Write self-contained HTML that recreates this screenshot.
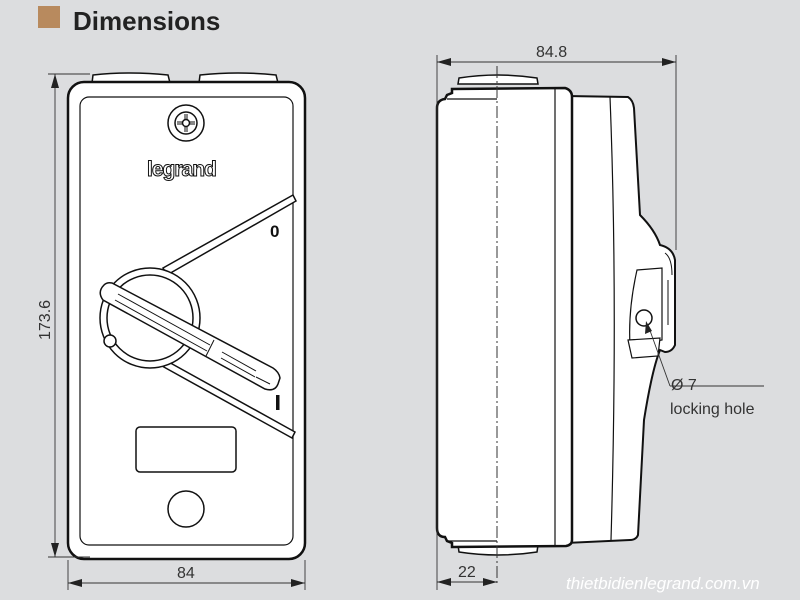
<!DOCTYPE html>
<html><head><style>
html,body{margin:0;padding:0;background:#dcdddf;}
svg{display:block}
text{font-family:"Liberation Sans",sans-serif;}
</style></head><body>
<svg width="800" height="600" viewBox="0 0 800 600" xmlns="http://www.w3.org/2000/svg">
<rect width="800" height="600" fill="#dcdddf"/>
<rect x="38" y="6" width="22" height="22" fill="#b88a5e"/>
<text x="73" y="30" font-size="26" font-weight="bold" fill="#222">Dimensions</text>

<g stroke="#111" fill="#fff" stroke-width="1.5">
<path d="M92,83 L93,75 Q130,71 168,75 L170,83 Z"/>
<path d="M199,83 L200,75 Q238,71 276,75 L278,83 Z"/>
<path d="M93,545 L94,554 Q132,559 170,554 L171,545 Z"/>
<path d="M199,545 L200,554 Q238,559 276,554 L277,545 Z"/>
<rect x="68" y="82" width="237" height="477" rx="16" stroke-width="2.5"/>
<rect x="80" y="97" width="213" height="448" rx="9" stroke-width="1.2"/>
<circle cx="186" cy="123" r="18"/>
<circle cx="186" cy="123" r="11"/>
<path d="M186,114 V132 M177,123 H195" stroke-width="3"/>
<path d="M186,114 V132 M177,123 H195" stroke="#fff" stroke-width="1"/>
<circle cx="186" cy="123" r="3.5"/>
</g>
<text x="147" y="176" font-size="21" font-weight="bold" fill="#fff" stroke="#111" stroke-width="1" letter-spacing="-1">legrand</text>
<g stroke="#111" fill="#fff" stroke-width="1.5">
<path d="M163,268 L293,195 L296,201 L167,275 Z"/>
<path d="M165,360 L295,432 L292,438 L162,366 Z"/>
<circle cx="150" cy="318" r="50"/>
<circle cx="150" cy="318" r="43"/>
<circle cx="110" cy="341" r="6"/>
<path d="M104,285 Q97,292 103,300 L265,389 Q275,392 278,384 L280,378 Q279,372 273,368 L112,283 Q107,282 104,285 Z"/>
<path d="M118,294 L210,345 M115,300 L207,351 M214,340 L206,356 M222,352 L256,371 M221,358 L255,377 M256,377 L270,384" stroke-width="1"/>
<rect x="136" y="427" width="100" height="45" rx="4"/>
<circle cx="186" cy="509" r="18"/>
</g>
<text x="270" y="237" font-size="17" font-weight="bold" fill="#111">0</text>
<rect x="276" y="395" width="3.5" height="15" fill="#111"/>

<g stroke="#111" fill="#fff" stroke-width="1.5">
<path d="M458,84 L459,78 Q498,72 537,78 L538,84 Z"/>
<path d="M458,545 L459,552 Q498,558 537,552 L538,545 Z"/>
<path d="M566,96 L628,97 Q633,100 634,108 L640,215 Q655,230 660,245 Q673,248 675,260 L675,345 Q672,352 665,352 L660,350 Q652,370 644,420 L638,535 Q636,540 630,540 L566,543 Z" stroke-width="2"/>
<path d="M437,108 Q437,100 445,99 L447,95 L452,93 L452,89 L565,88 Q572,90 572,97 L572,540 Q572,545 566,546 L452,547 L452,543 L447,541 L445,537 Q437,537 437,528 Z" stroke-width="2.5"/>
<path d="M555,89 V545 M610,97 Q618,300 611,540 M447,99 H497 M447,541 H497" stroke-width="1.2" fill="none"/>
<path d="M637,270 L662,268 L662,340 L630,345 Q628,310 637,270 Z" stroke-width="1.2"/>
<path d="M628,340 L660,338 L658,356 L632,358 Z" stroke-width="1.2"/>
<path d="M665,253 Q672,258 672,275 M668,280 V325" stroke-width="1" fill="none"/>
<circle cx="644" cy="318" r="8"/>
</g>
<line x1="497" y1="66" x2="497" y2="586" stroke="#333" stroke-width="1" stroke-dasharray="12,3,2,3"/>

<g stroke="#333" stroke-width="0.9" fill="#222">
<line x1="55" y1="74" x2="55" y2="557"/>
<line x1="48" y1="74" x2="90" y2="74"/>
<line x1="48" y1="557" x2="90" y2="557"/>
<line x1="68" y1="560" x2="68" y2="590"/>
<line x1="305" y1="560" x2="305" y2="590"/>
<line x1="68" y1="583" x2="305" y2="583"/>
<line x1="437" y1="55" x2="437" y2="590"/>
<line x1="676" y1="55" x2="676" y2="250"/>
<line x1="437" y1="62" x2="676" y2="62"/>
<line x1="437" y1="582" x2="497" y2="582"/>
<line x1="670" y1="386" x2="764" y2="386"/>
<line x1="670" y1="386" x2="648" y2="325"/>
<path d="M55,74 L51,88 L59,88 Z M55,557 L51,543 L59,543 Z M68,583 L82,579 L82,587 Z M305,583 L291,579 L291,587 Z M437,62 L451,58 L451,66 Z M676,62 L662,58 L662,66 Z M437,582 L451,578 L451,586 Z M497,582 L483,578 L483,586 Z M646,321 L645,334 L652,331 Z" stroke="none"/>
</g>
<g fill="#333" font-size="16">
<text x="177" y="578">84</text>
<text x="536" y="57">84.8</text>
<text x="458" y="577">22</text>
<text transform="translate(50,340) rotate(-90)">173.6</text>
<text x="671" y="390">Ø 7</text>
<text x="670" y="414">locking hole</text>
</g>
<text x="566" y="589" font-size="17" font-style="italic" fill="#fff">thietbidienlegrand.com.vn</text>
</svg>
</body></html>
